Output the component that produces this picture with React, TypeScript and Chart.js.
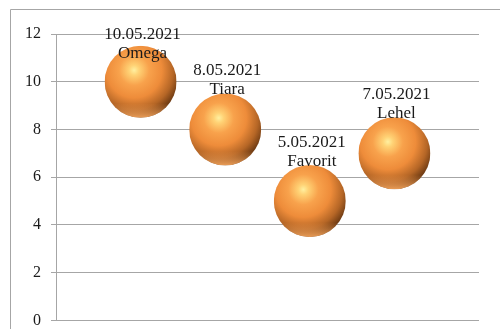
import React, { useEffect, useRef } from "react";
import { Chart, registerables } from "chart.js";

Chart.register(...registerables);

const names = ["Omega", "Tiara", "Favorit", "Lehel"];
const dates = ["10.05.2021", "8.05.2021", "5.05.2021", "7.05.2021"];
const xValues = [1, 2, 3, 4];
const yValues = [10, 8, 5, 7];
const bubbleSizes = [36, 36, 36, 36];
const yTicks = [0, 2, 4, 6, 8, 10, 12];

const SERIF = "'Liberation Serif', 'Times New Roman', serif";

const spherePlugin = {
  id: "spheres",
  beforeDraw(chart: any) {
    const ctx = chart.ctx;
    ctx.save();
    ctx.strokeStyle = "#a6a6a6";
    ctx.lineWidth = 1;
    ctx.beginPath();
    ctx.moveTo(10.5, chart.height);
    ctx.lineTo(10.5, 9.5);
    ctx.lineTo(chart.width, 9.5);
    ctx.stroke();
    ctx.restore();
  },
  afterDatasetsDraw(chart: any) {
    const ctx = chart.ctx;
    const meta = chart.getDatasetMeta(0);
    meta.data.forEach((el: any) => {
      const cx = el.x;
      const cy = el.y;
      const r = el.options.radius;
      ctx.save();
      ctx.beginPath();
      ctx.arc(cx, cy, r, 0, Math.PI * 2);
      ctx.clip();
      const hx = cx - 0.18 * r;
      const hy = cy - 0.32 * r;
      const g = ctx.createRadialGradient(hx, hy, 0, hx, hy, 1.4 * r);
      g.addColorStop(0, "#fff0a0");
      g.addColorStop(0.1, "#ffd275");
      g.addColorStop(0.3, "#f8a24c");
      g.addColorStop(0.55, "#ee8c3a");
      g.addColorStop(0.78, "#b56626");
      g.addColorStop(0.92, "#7a4216");
      g.addColorStop(1, "#5e3210");
      ctx.fillStyle = g;
      ctx.fillRect(cx - r, cy - r, 2 * r, 2 * r);
      const g2 = ctx.createLinearGradient(cx, cy + 0.6 * r, cx, cy + r);
      g2.addColorStop(0, "rgba(245,160,85,0)");
      g2.addColorStop(1, "rgba(248,168,95,0.9)");
      ctx.fillStyle = g2;
      ctx.fillRect(cx - r, cy + 0.6 * r, 2 * r, 0.4 * r);
      ctx.restore();
    });
    ctx.save();
    ctx.fillStyle = "#1a1a1a";
    ctx.font = "17px " + SERIF;
    ctx.textAlign = "center";
    ctx.textBaseline = "middle";
    const top = chart.chartArea.top;
    meta.data.forEach((el: any, i: number) => {
      let dy = el.y - 58.5;
      if (dy < top + 0.5) dy = top + 0.5;
      ctx.fillText(dates[i], el.x + 2, dy);
      ctx.fillText(names[i], el.x + 2, dy + 19);
    });
    ctx.restore();
  },
};

export default function App() {
  const ref = useRef<HTMLCanvasElement>(null);
  useEffect(() => {
    const canvas = ref.current!;
    const chart = new Chart(canvas, {
      type: "bubble",
      data: {
        datasets: [
          {
            label: "Series",
            data: xValues.map((x, i) => ({ x, y: yValues[i], r: bubbleSizes[i] })),
            backgroundColor: "rgba(0,0,0,0)",
            borderColor: "rgba(0,0,0,0)",
            borderWidth: 0,
            clip: false as any,
          },
        ],
      },
      options: {
        responsive: false,
        animation: false,
        layout: { autoPadding: false, padding: { top: 34, bottom: 0, right: 21, left: 0 } },
        plugins: { legend: { display: false }, tooltip: { enabled: false } },
        scales: {
          x: { type: "linear", min: 0, max: 5, display: false },
          y: {
            min: 0,
            max: 12,
            afterBuildTicks: (scale: any) => {
              scale.ticks = yTicks.map((v) => ({ value: v }));
            },
            afterFit: (scale: any) => {
              scale.width = 56;
            },
            grid: { color: "#a6a6a6", lineWidth: 1, tickLength: 5, drawTicks: true },
            border: { display: true, color: "#a6a6a6" },
            ticks: {
              padding: 10,
              color: "#1a1a1a",
              font: { family: SERIF, size: 16 },
            },
          },
        },
      },
      plugins: [spherePlugin],
    });
    return () => chart.destroy();
  }, []);
  return (
    <div style={{ position: "absolute", left: 0, top: 0, width: 500, height: 329, overflow: "hidden", background: "#fff" }}>
      <canvas ref={ref} width={500} height={340} style={{ width: 500, height: 340, display: "block" }} />
    </div>
  );
}
